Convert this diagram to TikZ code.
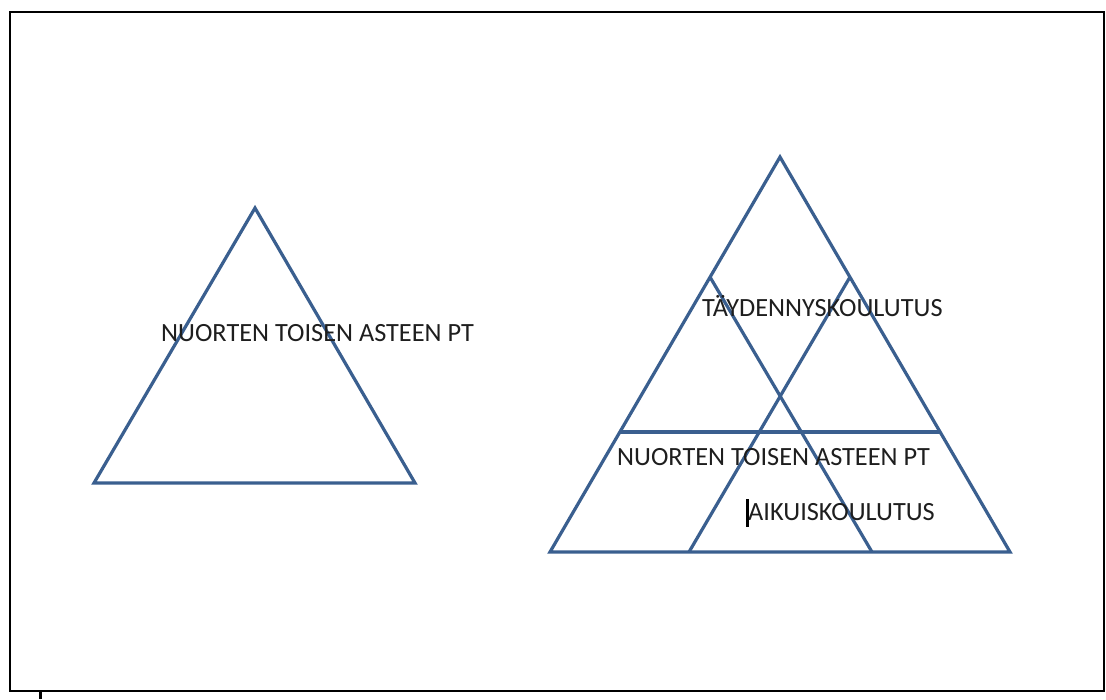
\documentclass[tikz,border=0pt]{standalone}
\usepackage{fontspec}
\setmainfont{Carlito}
\definecolor{tri}{HTML}{3A5F8F}
\definecolor{txt}{HTML}{1E1E1E}
\tikzset{
  triline/.style={draw=tri, line width=3.2pt, line join=miter},
  frame/.style={draw=black, line width=1.8pt},
  lbl/.style={anchor=west, inner sep=0pt, text=txt, font=\fontsize{26.3}{30}\selectfont},
}
\begin{document}
\begin{tikzpicture}[x=1pt,y=-1pt]
\useasboundingbox (0,0) rectangle (1106,699);
\fill[white] (0,0) rectangle (1106,699);
% page frame
\draw[frame] (10,12) rectangle (1104,691);
\fill[black] (38.5,691) rectangle (42,699);
% left triangle
\coordinate (LA) at (255,208);
\coordinate (LB) at (94,483);
\coordinate (LC) at (415,483);
\draw[triline] (LA) -- (LB) -- (LC) -- cycle;
\node[lbl] (lt) at (161,333) {NUORTEN TOISEN ASTEEN PT};
% right triangle
\coordinate (RA) at (780,157);
\coordinate (RB) at (550,552);
\coordinate (RC) at (1010,552);
\draw[triline] (RA) -- (RB) -- (RC) -- cycle;
\coordinate (H1) at (619,432);
\coordinate (H2) at (941,432);
\draw[triline] (H1) -- (H2);
\coordinate (P1) at (710,277);
\coordinate (P2) at (850,277);
\coordinate (Q1) at (872,552);
\coordinate (Q2) at (689,552);
\draw[triline] (P1) -- (Q1);
\draw[triline] (P2) -- (Q2);
\node[lbl] (t1) at (702,306) {TÄYDENNYSKOULUTUS};
\node[lbl] (t2) at (617,457) {NUORTEN TOISEN ASTEEN PT};
\node[lbl] (t3) at (748,512) {AIKUISKOULUTUS};
\fill[black] (746,499) rectangle (749,527);
\end{tikzpicture}
\end{document}
